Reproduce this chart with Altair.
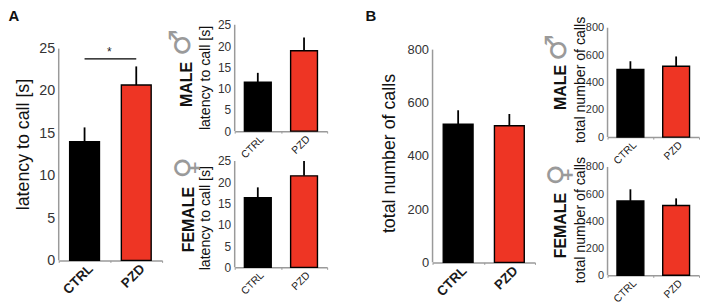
import altair as alt
import pandas as pd

CATS = ["CTRL", "PZD"]
COLORS = ["#000000", "#ee3524"]
A_MAIN = ([14.0, 20.7], [15.7, 22.9])
A_MALE = ([11.5, 18.9], [13.7, 22.0])
A_FEMALE = ([16.4, 21.5], [18.8, 25.0])
B_MAIN = ([520, 514], [572, 558])
B_MALE = ([495, 518], [555, 590])
B_FEMALE = ([549, 515], [635, 568])
A_TICKS = [0, 5, 10, 15, 20, 25]
B_TICKS = [0, 200, 400, 600, 800]
SIG_Y = [23.8]
GREY = "#9a9a9a"
SYMC = "#9a9a9a"
FONT = "Liberation Sans"
SYM = "DejaVu Sans"


def panel(series, ticks, title, w, h, pad, size, tick_fs, title_fs, x_fs, tx, ty, extras=()):
    df = pd.DataFrame({"cat": CATS, "v": series[0], "top": series[1]})
    axis_df = pd.DataFrame({"v": [ticks[0]], "top": [ticks[-1]]})
    x = alt.X("cat:N", sort=CATS, title=None, scale=alt.Scale(paddingInner=0, paddingOuter=0, align=0.5),
              axis=alt.Axis(labelAngle=-45, labelFontSize=x_fs, labelFont=FONT, labelColor="#1a1a1a",
                            labelFontWeight="bold" if x_fs > 11 else "normal",
                            labelOffset=6 if x_fs > 11 else 4,
                            domainColor=GREY, domainWidth=1.5, tickColor=GREY, tickSize=2,
                            tickBand="extent", tickWidth=1, labelPadding=4, labelAlign="right", labelBaseline="middle"))
    y = alt.Y("v:Q", title=title,
              scale=alt.Scale(domain=[ticks[0], ticks[-1] * (h + pad) / h], nice=False),
              axis=alt.Axis(values=ticks, labelFontSize=tick_fs, labelFont=FONT, labelColor="#333333",
                            domain=False, tickSize=0, labelPadding=4, grid=False,
                            titleFont=FONT, titleFontSize=title_fs, titleFontWeight="normal",
                            titleColor="#111111", titleX=tx, titleY=ty))
    base = alt.Chart(df)
    err = base.mark_rule(color="#000000", strokeWidth=1.8).encode(x=x, y=y, y2="top:Q")
    bars = base.mark_bar(size=size, stroke="#000000", strokeWidth=1.4).encode(
        x=x, y=y, color=alt.Color("cat:N", scale=alt.Scale(domain=CATS, range=COLORS), legend=None))
    yline = alt.Chart(axis_df).mark_rule(color=GREY, strokeWidth=1.5).encode(x=alt.value(0), y=y, y2="top:Q")
    return alt.layer(yline, err, bars, *extras).properties(width=w, height=h + pad)


def label(text, px, py, fs, weight="normal", angle=0, color="#111111", font=FONT):
    d = pd.DataFrame({"t": [text]})
    return alt.Chart(d).mark_text(fontSize=fs, fontWeight=weight, angle=angle, color=color, font=font,
                                  align="center", baseline="middle").encode(
        text="t:N", x=alt.value(px), y=alt.value(py))


sig_df = pd.DataFrame({"a": ["CTRL"], "b": ["PZD"], "y": SIG_Y, "s": ["*"]})
sx = alt.X("a:N", sort=CATS, title=None, scale=alt.Scale(domain=CATS))
sig = alt.Chart(sig_df).mark_rule(color="#000000", strokeWidth=1.2).encode(
    x=sx, x2="b:N", y=alt.Y("y:Q"))
star = alt.Chart(sig_df).mark_text(fontSize=12, color="#222222", font=FONT, dx=25, dy=-7).encode(
    x=sx, y=alt.Y("y:Q"), text="s:N")

a_main = panel(A_MAIN, A_TICKS, "latency to call [s]", 104, 213, 24, 30, 14.4, 17.9, 13.5, -26, 120,
               [sig, star, label("A", -45, -8.5, 15, "bold")])
a_male = panel(A_MALE, A_TICKS, "latency to call [s]", 93, 107, 0, 27, 12, 14.2, 10.5, -22, 53,
               [label("MALE", -48, 60, 16, "bold", 270),
                label("♂", -54, 18, 30, "normal", 270, SYMC, SYM)])
a_female = panel(A_FEMALE, A_TICKS, "latency to call [s]", 93, 107, 0, 27, 12, 14.2, 10.5, -22, 57,
                 [label("FEMALE", -46, 59, 16, "bold", 270),
                  label("♀", -48, 7, 30, "normal", 270, SYMC, SYM)])
b_main = panel(B_MAIN, B_TICKS, "total number of calls", 103, 214, 25, 30, 13, 17.9, 13.5, -34, 129,
               [label("B", -62, -9, 15, "bold")])
b_male = panel(B_MALE, B_TICKS, "total number of calls", 92, 110, 3, 27, 11, 14.2, 10.5, -20, 55,
               [label("MALE", -47, 63, 16, "bold", 270),
                label("♂", -51, 23, 30, "normal", 270, SYMC, SYM)])
b_female = panel(B_FEMALE, B_TICKS, "total number of calls", 92, 109, 0, 27, 11, 14.2, 10.5, -20, 53,
                 [label("FEMALE", -47, 59, 16, "bold", 270),
                  label("♀", -48, 8, 30, "normal", 270, SYMC, SYM)])

left = alt.hconcat(
    a_main,
    alt.vconcat(a_male, a_female, spacing=-8),
    spacing=3)
right = alt.hconcat(
    b_main,
    alt.vconcat(b_male, b_female, spacing=-12),
    spacing=6)
chart = alt.hconcat(left, right, spacing=37).properties(
    padding=0, background="white"
).configure_view(stroke=None)

chart.save("out.html", embed_options={"renderer": "svg", "actions": False})
